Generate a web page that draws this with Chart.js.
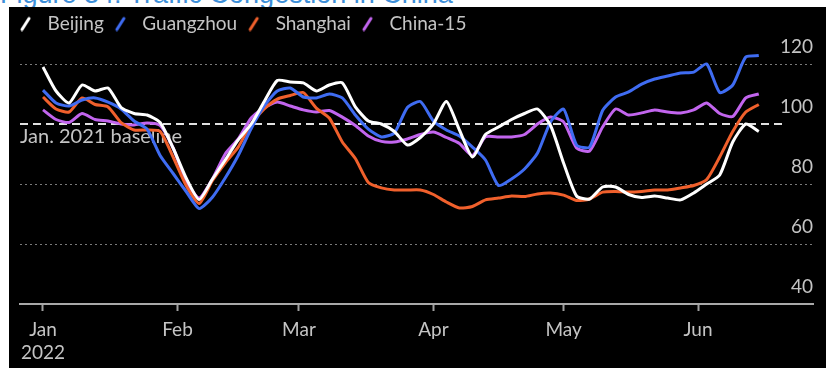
<!DOCTYPE html>
<html>
<head>
<meta charset="utf-8">
<script src="https://cdn.jsdelivr.net/npm/chart.js@4.4.1/dist/chart.umd.min.js"></script>
<style>
  html, body { margin: 0; padding: 0; background: #fff; }
  body { width: 826px; height: 368px; position: relative; overflow: hidden; }
  #title { position: absolute; left: 0; top: 0; width: 826px; height: 7px; overflow: hidden; }
  #title span { position: absolute; left: 0; top: -19px; font: 27px/27px 'Liberation Sans', sans-serif; color: #3d8fd9; white-space: nowrap; }
  #panel { position: absolute; left: 9px; top: 7px; width: 817px; height: 361px; background: #000; }
</style>
</head>
<body>
<div id="title"><span>Figure 34: Traffic Congestion in China</span></div>
<div id="panel"><canvas id="trafficChart" width="817" height="361"></canvas></div>
<script>
// days since 1 Jan 2022
const days = [0, 3, 6, 9, 12, 15, 18, 21, 24, 27, 30, 33, 36, 39, 42, 45, 48, 51, 54, 57,
  60, 63, 66, 69, 72, 75, 78, 81, 84, 87, 90, 93, 96, 99, 102, 105, 108, 111, 114, 117,
  120, 123, 126, 129, 132, 135, 138, 141, 144, 147, 150, 153, 156, 159, 162, 165];

const beijing = [119, 111, 107, 113, 111, 112, 105.5, 103.5, 103, 100.5,
  92, 82, 74.8, 81.5, 88, 94.7, 100, 107.5, 114.5, 114,
  113.7, 111, 113, 113.7, 105.7, 101, 100, 97.5, 93, 95.5,
  100, 107.5, 98, 89, 96.5, 99, 101.5, 103.5, 105, 99.5,
  87, 76, 75, 79, 79, 76.5, 75.5, 76, 75.3, 74.7,
  77, 80, 83, 94, 100, 97.5];

const guangzhou = [111.3, 107, 106, 108, 108.7, 107.3, 105, 101, 98.3, 89.5,
  83.5, 77.5, 71.8, 75.5, 82, 89.5, 98.5, 106, 111, 112,
  109, 108.7, 110, 108.7, 103, 98.3, 95.7, 97, 105.5, 107.5,
  101, 98, 96, 92.3, 88, 79.5, 81.7, 85, 90.3, 100.7,
  105, 93, 92.3, 104.5, 109, 110.7, 113.3, 115, 116, 117,
  117.3, 120, 110.5, 113, 122.3, 122.8];

const shanghai = [109, 105, 104, 108.7, 106.5, 105.7, 100.5, 98, 98, 97.5,
  89, 79.5, 73.5, 81, 87, 92.3, 100, 105, 108.3, 109.5,
  110.5, 105.3, 102, 94, 88.5, 80.5, 78.7, 78, 78, 78,
  76.5, 74, 72, 72.5, 74.7, 75.3, 76, 75.8, 76.7, 77,
  76.3, 74.5, 75, 77.3, 77.5, 77.3, 77.5, 78, 78, 78.7,
  79.5, 81.5, 89, 97.5, 104, 106.5];

const china15 = [104.7, 101.5, 100.5, 103.5, 101.5, 101, 100, 99.7, 100.3, 99.5,
  92, 81, 75.3, 81.5, 90, 95, 102, 105.5, 107.3, 106,
  104.7, 104, 104.5, 102.3, 99.5, 96, 94.2, 94, 95, 96.5,
  97.3, 95.5, 93.5, 89.5, 95.7, 95.7, 95.7, 96.5, 100, 102.3,
  100.7, 92, 91, 99, 105, 103, 103.7, 104.7, 104, 103.7,
  104.7, 107, 103.5, 102.5, 108.7, 110];

const monthTicks = [0, 31, 59, 90, 120, 151];
const monthLabels = [['Jan', '2022'], 'Feb', 'Mar', 'Apr', 'May', 'Jun'];
const yTicks = [40, 60, 80, 100, 120];
const baselineValue = 100;
const baselineLabel = 'Jan. 2021 baseline';

const textColor = '#c4c4c4';

// little slanted stroke used as legend marker
function slash(color) {
  const c = document.createElement('canvas');
  c.width = 22;
  c.height = 16;
  const g = c.getContext('2d');
  g.strokeStyle = color;
  g.lineWidth = 3;
  g.lineCap = 'round';
  g.beginPath();
  g.moveTo(6, 14);
  g.lineTo(13, 3);
  g.stroke();
  return c;
}

function series(label, values, color) {
  return {
    label: label,
    data: days.map((d, i) => ({ x: d, y: values[i] })),
    borderColor: color,
    backgroundColor: color,
    borderWidth: 3,
    tension: 0.2,
    pointRadius: 0,
    pointHoverRadius: 0,
    pointStyle: slash(color),
    fill: false
  };
}

// dashed baseline with its caption
const baselinePlugin = {
  id: 'baseline',
  beforeDatasetsDraw(chart) {
    const { ctx, chartArea, scales } = chart;
    const yPos = scales.y.getPixelForValue(baselineValue);
    ctx.save();
    ctx.strokeStyle = '#e0e0e0';
    ctx.lineWidth = 2;
    ctx.setLineDash([8, 5]);
    ctx.beginPath();
    ctx.moveTo(chartArea.left, yPos);
    ctx.lineTo(chartArea.right - 31, yPos);
    ctx.stroke();
    ctx.setLineDash([]);
    ctx.fillStyle = textColor;
    ctx.font = '20px Lato';
    ctx.textBaseline = 'middle';
    ctx.fillText(baselineLabel, chartArea.left, yPos + 13);
    ctx.restore();
  }
};

const ctx = document.getElementById('trafficChart').getContext('2d');

new Chart(ctx, {
  type: 'line',
  data: {
    datasets: [
      series('Beijing', beijing, '#ffffff'),
      series('Guangzhou', guangzhou, '#3f6cf2'),
      series('Shanghai', shanghai, '#f0602c'),
      series('China-15', china15, '#c265ee')
    ]
  },
  options: {
    responsive: false,
    animation: false,
    events: [],
    layout: { padding: 0 },
    scales: {
      x: {
        type: 'linear',
        min: -5.3,
        max: 177.5,
        afterBuildTicks: s => { s.ticks = monthTicks.map(v => ({ value: v })); },
        afterFit: s => { s.height = 64; s.paddingLeft = 11; s.paddingRight = 13; },
        grid: { drawOnChartArea: false, drawTicks: true, tickLength: 7, tickColor: '#a0a0a0', tickWidth: 2 },
        border: { display: true, color: '#a8a8a8', width: 2 },
        ticks: {
          autoSkip: false,
          maxRotation: 0,
          padding: 8,
          color: textColor,
          font: { family: 'Lato', size: 19, lineHeight: 1.18 },
          callback: (v, i) => monthLabels[i]
        }
      },
      y: {
        position: 'right',
        min: 40,
        max: 127,
        afterBuildTicks: s => { s.ticks = yTicks.map(v => ({ value: v })); },
        grid: {
          drawTicks: false,
          lineWidth: 1,
          color: c => (c.tick && (c.tick.value === 40 || c.tick.value === baselineValue)) ? 'rgba(0,0,0,0)' : '#7a7a7a'
        },
        border: { display: false, dash: [2, 3] },
        ticks: {
          mirror: true,
          padding: 0,
          labelOffset: -17,
          color: textColor,
          font: { family: 'Lato', size: 19 }
        }
      }
    },
    plugins: {
      legend: {
        position: 'top',
        align: 'start',
        labels: {
          usePointStyle: true,
          pointStyleWidth: 22,
          padding: 7,
          color: textColor,
          font: { family: 'Lato', size: 19 }
        }
      },
      tooltip: { enabled: false }
    }
  },
  plugins: [baselinePlugin]
});
</script>
</body>
</html>
